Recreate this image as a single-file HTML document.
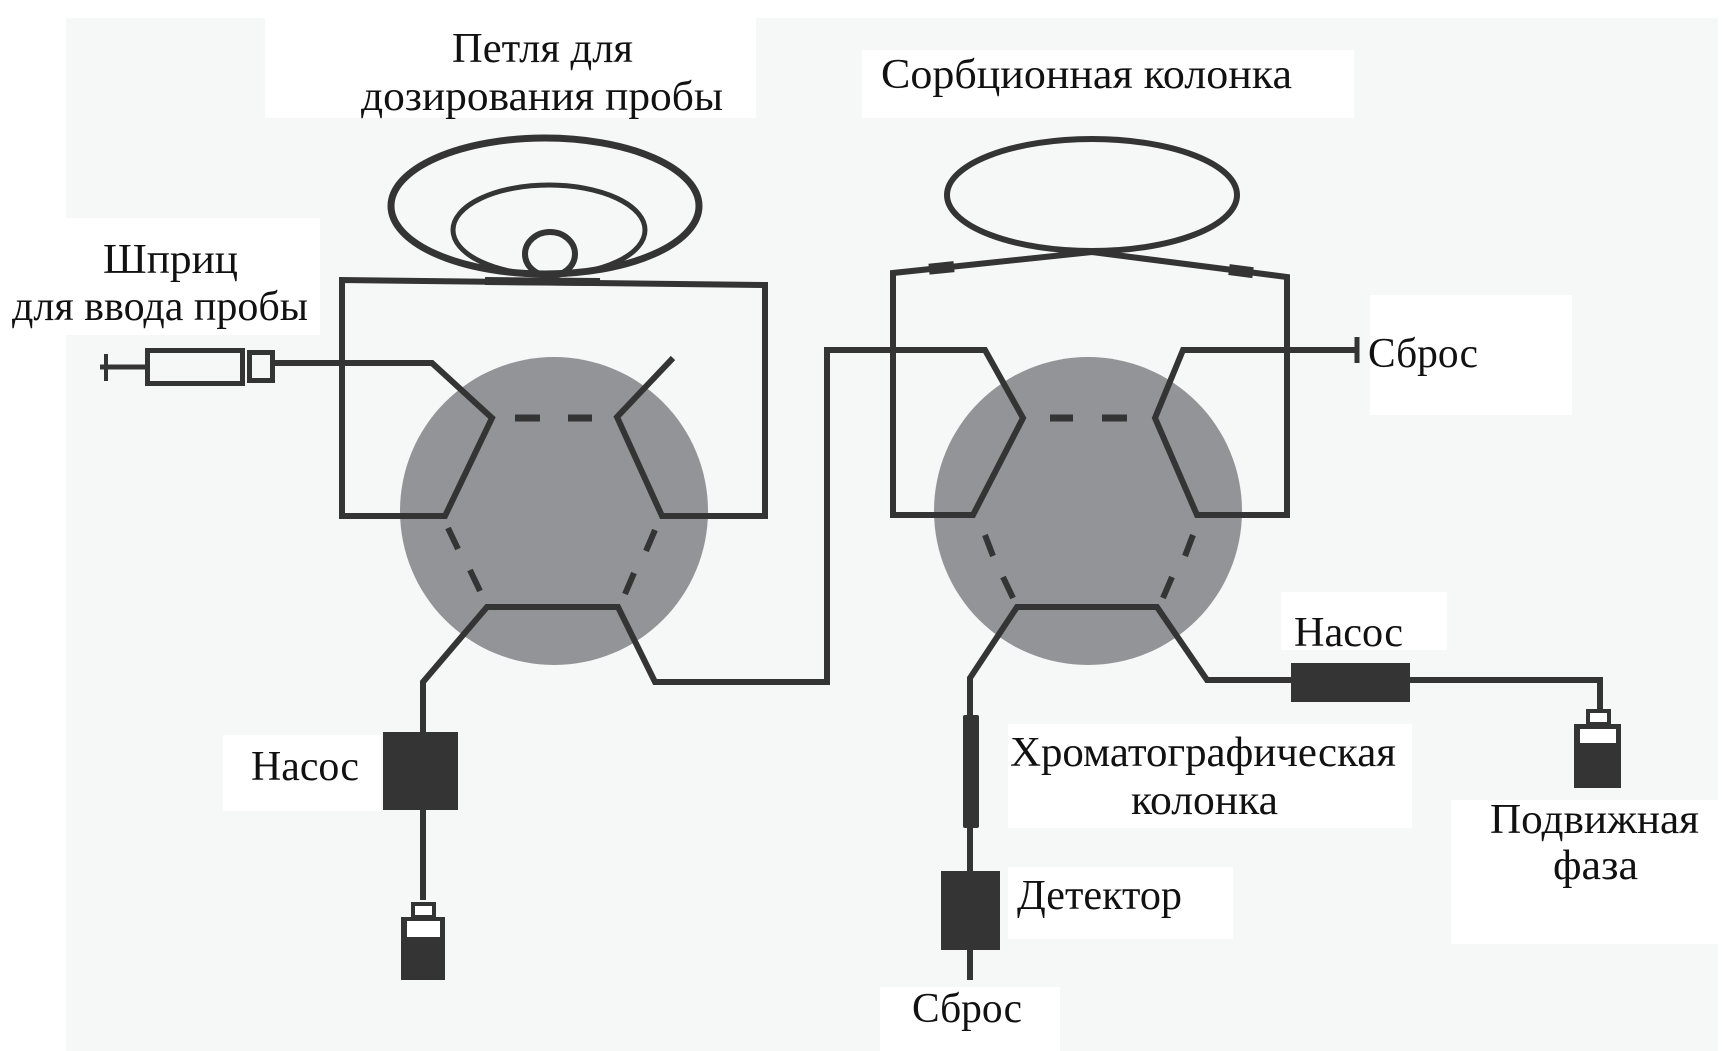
<!DOCTYPE html>
<html>
<head>
<meta charset="utf-8">
<style>
  html, body { margin: 0; padding: 0; background: #ffffff; }
  svg { display: block; }
  text { font-family: "Liberation Serif", "Noto Serif CJK SC", serif; font-size: 42px; fill: #111111; }
</style>
</head>
<body>
<svg width="1731" height="1051" viewBox="0 0 1731 1051" xmlns="http://www.w3.org/2000/svg">
  <!-- backgrounds -->
  <rect x="0" y="0" width="1731" height="1051" fill="#ffffff"/>
  <rect x="66" y="18" width="1652" height="1033" fill="#f6f7f7"/>
  <!-- label white boxes -->
  <rect x="265" y="0" width="491" height="118" fill="#ffffff"/>
  <rect x="862" y="50" width="492" height="68" fill="#ffffff"/>
  <rect x="0" y="218" width="320" height="117" fill="#ffffff"/>
  <rect x="1370" y="295" width="202" height="120" fill="#ffffff"/>
  <rect x="223" y="735" width="158" height="76" fill="#ffffff"/>
  <rect x="1281" y="592" width="166" height="58" fill="#ffffff"/>
  <rect x="1008" y="724" width="404" height="104" fill="#ffffff"/>
  <rect x="1008" y="867" width="225" height="72" fill="#ffffff"/>
  <rect x="880" y="987" width="180" height="64" fill="#ffffff"/>
  <rect x="1451" y="800" width="267" height="144" fill="#ffffff"/>

  <!-- valve discs -->
  <circle cx="554" cy="511" r="154" fill="#939497"/>
  <circle cx="1088" cy="511" r="154" fill="#939497"/>

  <g stroke="#343434" fill="none" stroke-linejoin="miter" stroke-linecap="butt">
    <!-- sample loop coils -->
    <ellipse cx="545" cy="206" rx="154" ry="68" stroke-width="7"/>
    <ellipse cx="549" cy="230" rx="96" ry="45" stroke-width="5"/>
    <ellipse cx="550" cy="254" rx="25" ry="22" stroke-width="6"/>
    <line x1="485" y1="281" x2="600" y2="282" stroke-width="8"/>

    <!-- left valve: syringe inlet + loop frame -->
    <path d="M275,363 L432,363 L492,418 L445,516 L342,516 L342,280 L765,285 L765,516 L662,516 L617,417 L673,358" stroke-width="6"/>

    <!-- left valve dashes -->
    <line x1="515" y1="418" x2="540" y2="418" stroke-width="7"/>
    <line x1="568" y1="418" x2="592" y2="418" stroke-width="7"/>
    <line x1="448" y1="528" x2="458" y2="549" stroke-width="6"/>
    <line x1="470" y1="570" x2="480" y2="591" stroke-width="6"/>
    <line x1="655" y1="530" x2="646" y2="551" stroke-width="6"/>
    <line x1="634" y1="573" x2="625" y2="594" stroke-width="6"/>

    <!-- left valve bottom: pump line and transfer to right valve -->
    <path d="M423,900 L423,682 L487,607 L618,607 L655,682 L827,682 L827,350 L985,350 L1023,418 L973,515 L893,515 L893,273 L1092,252 L1287,277 L1287,515 L1197,515 L1155,418 L1183,350 L1357,350" stroke-width="6"/>
    <line x1="1357" y1="337" x2="1357" y2="363" stroke-width="5"/>

    <!-- sorbent column loop -->
    <ellipse cx="1092" cy="195" rx="145" ry="56" stroke-width="6"/>
    <line x1="929" y1="269.2" x2="954" y2="266.6" stroke-width="11"/>
    <line x1="1229" y1="269.6" x2="1253" y2="272.7" stroke-width="11"/>

    <!-- right valve dashes -->
    <line x1="1050" y1="418" x2="1073" y2="418" stroke-width="7"/>
    <line x1="1102" y1="418" x2="1127" y2="418" stroke-width="7"/>
    <line x1="985" y1="535" x2="993" y2="556" stroke-width="6"/>
    <line x1="1003" y1="577" x2="1013" y2="598" stroke-width="6"/>
    <line x1="1193" y1="535" x2="1185" y2="556" stroke-width="6"/>
    <line x1="1172" y1="577" x2="1163" y2="598" stroke-width="6"/>

    <!-- right valve bottom -->
    <path d="M970,980 L970,678 L1017,607 L1157,607 L1207,680 L1600,680 L1600,710" stroke-width="6"/>

    <!-- syringe -->
    <line x1="100" y1="367" x2="147" y2="367" stroke-width="5"/>
    <line x1="106" y1="354" x2="106" y2="381" stroke-width="4"/>
    <rect x="147.5" y="350.5" width="95" height="33" stroke-width="5"/>
    <rect x="249.5" y="352.5" width="23" height="28" stroke-width="5"/>

    <!-- bottle caps -->
    <rect x="413" y="904" width="21" height="13" stroke-width="4" fill="#ffffff"/>
    <rect x="1588" y="711" width="21" height="13" stroke-width="4" fill="#ffffff"/>
  </g>

  <!-- solid blocks -->
  <g fill="#343434">
    <rect x="383" y="732" width="75" height="78"/>
    <rect x="401" y="917" width="44" height="63"/>
    <rect x="963" y="715" width="16" height="113" rx="2"/>
    <rect x="941" y="871" width="59" height="79"/>
    <rect x="1291" y="663" width="119" height="39"/>
    <rect x="1574" y="724" width="47" height="64"/>
  </g>
  <g fill="#ffffff">
    <rect x="407" y="921" width="33" height="16"/>
    <rect x="1580" y="729" width="36" height="14"/>
  </g>

  <!-- labels -->
  <text x="452" y="62" textLength="181" lengthAdjust="spacingAndGlyphs">Петля для</text>
  <text x="361" y="110" textLength="362" lengthAdjust="spacingAndGlyphs">дозирования пробы</text>
  <text x="881" y="88" textLength="411" lengthAdjust="spacingAndGlyphs">Сорбционная колонка</text>
  <text x="103" y="273" textLength="135" lengthAdjust="spacingAndGlyphs">Шприц</text>
  <text x="12" y="320" textLength="296" lengthAdjust="spacingAndGlyphs">для ввода пробы</text>
  <text x="1368" y="367" textLength="110" lengthAdjust="spacingAndGlyphs">Сброс</text>
  <text x="251" y="780" textLength="108" lengthAdjust="spacingAndGlyphs">Насос</text>
  <text x="1294" y="646" textLength="109" lengthAdjust="spacingAndGlyphs">Насос</text>
  <text x="1010" y="766" textLength="386" lengthAdjust="spacingAndGlyphs">Хроматографическая</text>
  <text x="1131" y="814" textLength="147" lengthAdjust="spacingAndGlyphs">колонка</text>
  <text x="1017" y="909" textLength="165" lengthAdjust="spacingAndGlyphs">Детектор</text>
  <text x="912" y="1022" textLength="110" lengthAdjust="spacingAndGlyphs">Сброс</text>
  <text x="1490" y="833" textLength="209" lengthAdjust="spacingAndGlyphs">Подвижная</text>
  <text x="1553" y="879" textLength="85" lengthAdjust="spacingAndGlyphs">фаза</text>
</svg>
</body>
</html>
